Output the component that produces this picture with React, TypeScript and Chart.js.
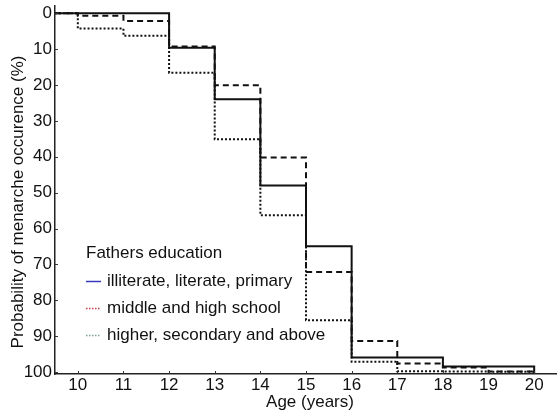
import React, { useEffect, useRef } from "react";
import { Chart, registerables } from "chart.js";

Chart.register(...registerables);

// Age (years) at which each step begins
const ages = [9.5, 10, 11, 12, 13, 14, 15, 16, 17, 18, 19, 20];
// Cumulative probability of menarche occurrence (%) per education group
const primaryPct = [0, 0, 0, 9.6, 24.0, 48.0, 64.9, 95.9, 95.9, 98.4, 98.4, 100.5];
const middlePct = [0, 0.75, 2.2, 9.3, 20.1, 40.2, 72.1, 91.3, 97.6, 98.7, 99.8, 99.8];
const higherPct = [0, 4.3, 6.3, 16.6, 35.1, 56.3, 85.5, 97.1, 99.7, 99.8, 99.9, 99.9];

const xTickValues = [10, 11, 12, 13, 14, 15, 16, 17, 18, 19, 20];
const yTickValues = [0, 10, 20, 30, 40, 50, 60, 70, 80, 90, 100];

const legendTitle = "Fathers education";
const seriesLabels = [
  "illiterate, literate, primary",
  "middle and high school",
  "higher, secondary and above",
];
const xTitle = "Age (years)";
const yTitle = "Probability of menarche occurence (%)";

const FONT = "'Liberation Sans', Arial, Helvetica, sans-serif";

const legendSamples = [
  { color: "#3a3ab8", dash: [] as number[], width: 1.5 },
  { color: "#c0404a", dash: [1.5, 1.5], width: 1.5 },
  { color: "#7f9f9a", dash: [1.5, 1.5], width: 1.5 },
];

const decorPlugin = {
  id: "decor",
  afterDraw(chart: any) {
    const ctx = chart.ctx;
    const xs = chart.scales.x;
    const ys = chart.scales.y;
    const area = chart.chartArea;
    ctx.save();
    // inward tick marks
    ctx.strokeStyle = "#333";
    ctx.lineWidth = 1;
    xTickValues.forEach((v) => {
      const px = Math.round(xs.getPixelForValue(v)) + 0.5;
      ctx.beginPath();
      ctx.moveTo(px, area.bottom);
      ctx.lineTo(px, area.bottom - 3);
      ctx.stroke();
    });
    yTickValues.forEach((v) => {
      const py = Math.round(ys.getPixelForValue(v)) + 0.5;
      ctx.beginPath();
      ctx.moveTo(area.left, py);
      ctx.lineTo(area.left + 3, py);
      ctx.stroke();
    });

    // axis titles
    ctx.fillStyle = "#111";
    ctx.font = `17px ${FONT}`;
    ctx.textAlign = "center";
    ctx.textBaseline = "middle";
    ctx.fillText(xTitle, 310, 402);
    ctx.save();
    ctx.translate(18, 202);
    ctx.rotate(-Math.PI / 2);
    ctx.fillText(yTitle, 0, 0);
    ctx.restore();

    // legend
    ctx.textAlign = "left";
    ctx.fillText(legendTitle, 86, 253);
    const rowsY = [281, 308, 335];
    seriesLabels.forEach((label, i) => {
      const s = legendSamples[i];
      ctx.save();
      ctx.strokeStyle = s.color;
      ctx.lineWidth = s.width;
      ctx.setLineDash(s.dash);
      ctx.beginPath();
      ctx.moveTo(86, rowsY[i] + 0.5);
      ctx.lineTo(101, rowsY[i] + 0.5);
      ctx.stroke();
      ctx.restore();
      ctx.fillStyle = "#111";
      ctx.fillText(label, 107, rowsY[i]);
    });
    ctx.restore();
  },
};

export default function App() {
  const canvasRef = useRef<HTMLCanvasElement | null>(null);

  useEffect(() => {
    const canvas = canvasRef.current;
    if (!canvas) return;
    const toPts = (vals: number[]) => ages.map((a, i) => ({ x: a, y: vals[i] }));
    const chart = new Chart(canvas, {
      type: "line",
      data: {
        datasets: [
          {
            label: seriesLabels[0],
            data: toPts(primaryPct),
            stepped: "before",
            borderColor: "#111",
            borderWidth: 2,
            pointRadius: 0,
            fill: false,
          },
          {
            label: seriesLabels[1],
            data: toPts(middlePct),
            stepped: "before",
            borderColor: "#111",
            borderWidth: 2,
            borderDash: [6, 4],
            pointRadius: 0,
            fill: false,
          },
          {
            label: seriesLabels[2],
            data: toPts(higherPct),
            stepped: "before",
            borderColor: "#111",
            borderWidth: 2,
            borderDash: [2, 2],
            pointRadius: 0,
            fill: false,
          },
        ],
      },
      options: {
        animation: false,
        responsive: false,
        devicePixelRatio: 1,
        layout: { padding: { top: 6, left: 0, right: 0, bottom: 0 } },
        plugins: {
          legend: { display: false },
          tooltip: { enabled: false },
          title: { display: false },
        },
        scales: {
          x: {
            type: "linear",
            min: 9.5,
            max: 20.5,
            grid: { display: false, drawTicks: false },
            border: { display: true, color: "#222", width: 1.5 },
            ticks: {
              color: "#111",
              font: { family: FONT, size: 17 },
              padding: 1,
            },
            afterBuildTicks: (scale: any) => {
              scale.ticks = xTickValues.map((v) => ({ value: v }));
            },
            afterFit: (scale: any) => {
              scale.height = 41;
              scale.paddingLeft = 0;
              scale.paddingRight = 0;
              scale.paddingTop = 0;
              scale.paddingBottom = 0;
            },
          },
          y: {
            type: "linear",
            reverse: true,
            min: -2,
            max: 100.5,
            grid: { display: false, drawTicks: false },
            border: { display: true, color: "#222", width: 1.5 },
            ticks: {
              color: "#111",
              font: { family: FONT, size: 17 },
              padding: 3,
            },
            afterBuildTicks: (scale: any) => {
              scale.ticks = yTickValues.map((v) => ({ value: v }));
            },
            afterFit: (scale: any) => {
              scale.width = 55;
              scale.paddingLeft = 0;
              scale.paddingRight = 0;
              scale.paddingTop = 0;
              scale.paddingBottom = 0;
            },
          },
        },
      },
      plugins: [decorPlugin],
    } as any);
    return () => chart.destroy();
  }, []);

  return (
    <div style={{ position: "fixed", left: 0, top: 0, width: 557, height: 415, background: "#fff" }}>
      <canvas ref={canvasRef} width={557} height={415} style={{ display: "block" }} />
    </div>
  );
}
